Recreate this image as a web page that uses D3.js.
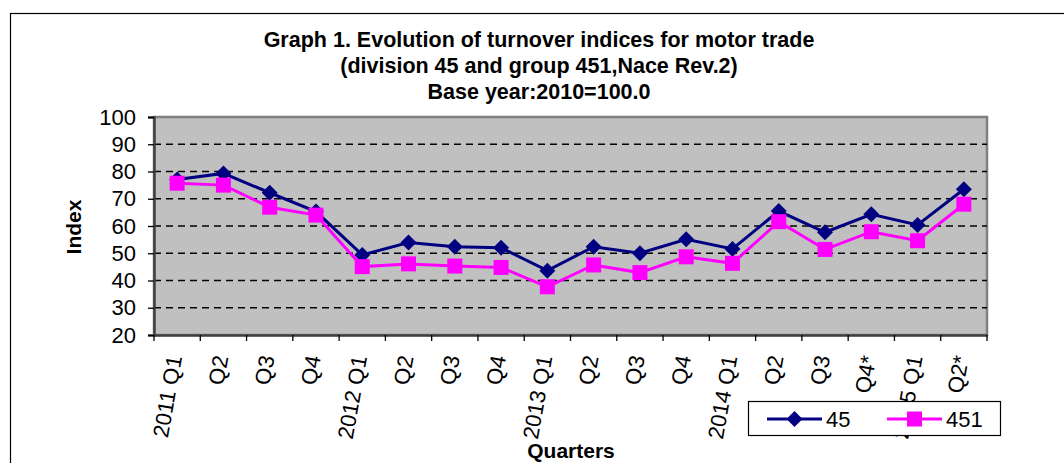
<!DOCTYPE html>
<html><head><meta charset="utf-8">
<script src="https://cdn.jsdelivr.net/npm/d3@7"></script>
<style>
body{margin:0;background:#fff;}
svg{display:block;font-family:Arial,"Liberation Sans",sans-serif;}
</style></head>
<body><svg id="c" width="1064" height="463"></svg>
<script>
const categories = ["2011 Q1","Q2","Q3","Q4","2012 Q1","Q2","Q3","Q4","2013 Q1","Q2","Q3","Q4","2014 Q1","Q2","Q3","Q4*","2015 Q1","Q2*"];
const series45  = [77.1,79.3,72.2,65.3,49.4,53.9,52.4,52.0,43.6,52.4,50.0,55.1,51.6,65.5,57.7,64.3,60.4,73.5];
const series451 = [75.7,75.0,66.9,64.0,45.1,46.1,45.3,44.8,37.7,45.7,42.9,48.7,46.3,61.6,51.4,57.9,54.6,68.0];
const yTicks = [20,30,40,50,60,70,80,90,100];
const titleLines = ["Graph 1. Evolution of turnover indices for motor trade","(division 45 and group 451,Nace Rev.2)","Base year:2010=100.0"];
const seriesNames = ["45","451"];

const svg = d3.select("#c");
const L=154, R=987, T=117, B=335;
const idx = d3.range(categories.length);
const x = d3.scaleBand().domain(idx).range([L,R]).padding(0);
const y = d3.scaleLinear().domain([20,100]).range([B,T]);
const cx = i => x(i)+x.bandwidth()/2;

// outer frame
svg.append("rect").attr("x",10.5).attr("y",13.5).attr("width",1100).attr("height",500)
  .attr("fill","#fff").attr("stroke","#000").attr("stroke-width",1.2);

// title
svg.append("g").selectAll("text").data(titleLines).join("text")
  .attr("x",539).attr("y",(d,i)=>47+i*26).attr("text-anchor","middle")
  .attr("font-weight","bold").attr("font-size",21.5).attr("fill","#000")
  .text(d=>d);

// plot area
svg.append("rect").attr("x",L).attr("y",T).attr("width",R-L).attr("height",B-T)
  .attr("fill","#c0c0c0").attr("stroke","#808080").attr("stroke-width",2.5);

// gridlines
svg.append("g").selectAll("line").data(yTicks.filter(v=>v>20&&v<100)).join("line")
  .attr("x1",L).attr("x2",R).attr("y1",d=>y(d)).attr("y2",d=>y(d))
  .attr("stroke","#000").attr("stroke-width",1.3).attr("stroke-dasharray","7,5");

// y axis
const ya = svg.append("g").attr("transform",`translate(${L},0)`)
  .call(d3.axisLeft(y).tickValues(yTicks).tickSize(6).tickPadding(12));
ya.select(".domain").attr("stroke","#404040").attr("stroke-width",2.5);
ya.selectAll(".tick line").attr("stroke","#000").attr("stroke-width",1.3);
ya.selectAll("text").attr("font-size",22).attr("fill","#000").attr("font-family","Arial,'Liberation Sans',sans-serif");

// x axis
const xa = svg.append("g").attr("transform",`translate(0,${B})`)
  .call(d3.axisBottom(x).tickValues([]).tickSize(0));
xa.select(".domain").attr("stroke","#404040").attr("stroke-width",2.5);
svg.append("g").selectAll("line").data(d3.range(categories.length+1)).join("line")
  .attr("x1",i=>i<categories.length?x(i):R).attr("x2",i=>i<categories.length?x(i):R)
  .attr("y1",B).attr("y2",B+6).attr("stroke","#000").attr("stroke-width",1.3);
svg.append("g").selectAll("text").data(idx).join("text")
  .attr("transform",i=>`translate(${cx(i)+5},357) rotate(-80)`)
  .attr("text-anchor","end").attr("font-size",22).attr("fill","#000")
  .text(i=>categories[i]);

// axis titles
svg.append("text").attr("transform","translate(81,227) rotate(-90)").attr("text-anchor","middle")
  .attr("font-weight","bold").attr("font-size",21).text("Index");
svg.append("text").attr("x",571).attr("y",458).attr("text-anchor","middle")
  .attr("font-weight","bold").attr("font-size",21).text("Quarters");

// lines
const line = d3.line().x((d,i)=>cx(i)).y(d=>y(d));
const colors = ["#000080","#ff00ff"];
const diamond = (px,py,s)=>`M${px},${py-s}L${px+s},${py}L${px},${py+s}L${px-s},${py}Z`;
svg.append("path").datum(series45).attr("d",line).attr("fill","none").attr("stroke",colors[0]).attr("stroke-width",3);
svg.append("path").datum(series451).attr("d",line).attr("fill","none").attr("stroke",colors[1]).attr("stroke-width",3);
svg.append("g").selectAll("path").data(series45).join("path")
  .attr("d",(d,i)=>diamond(cx(i),y(d),8)).attr("fill",colors[0]);
svg.append("g").selectAll("rect").data(series451).join("rect")
  .attr("x",(d,i)=>cx(i)-7.5).attr("y",d=>y(d)-7.5).attr("width",15).attr("height",15).attr("fill",colors[1]);

// legend
const lg = svg.append("g");
lg.append("rect").attr("x",748.5).attr("y",401.5).attr("width",252).attr("height",34)
  .attr("fill","#fff").attr("stroke","#000").attr("stroke-width",1.2);
const lx=[767,887];
seriesNames.forEach((n,k)=>{
  lg.append("line").attr("x1",lx[k]).attr("x2",lx[k]+55).attr("y1",419).attr("y2",419)
    .attr("stroke",colors[k]).attr("stroke-width",3);
  if(k===0) lg.append("path").attr("d",diamond(lx[k]+27.5,419,8)).attr("fill",colors[k]);
  else lg.append("rect").attr("x",lx[k]+27.5-7.5).attr("y",411.5).attr("width",15).attr("height",15).attr("fill",colors[k]);
  lg.append("text").attr("x",lx[k]+59).attr("y",427).attr("font-size",22).text(n);
});
</script></body></html>
